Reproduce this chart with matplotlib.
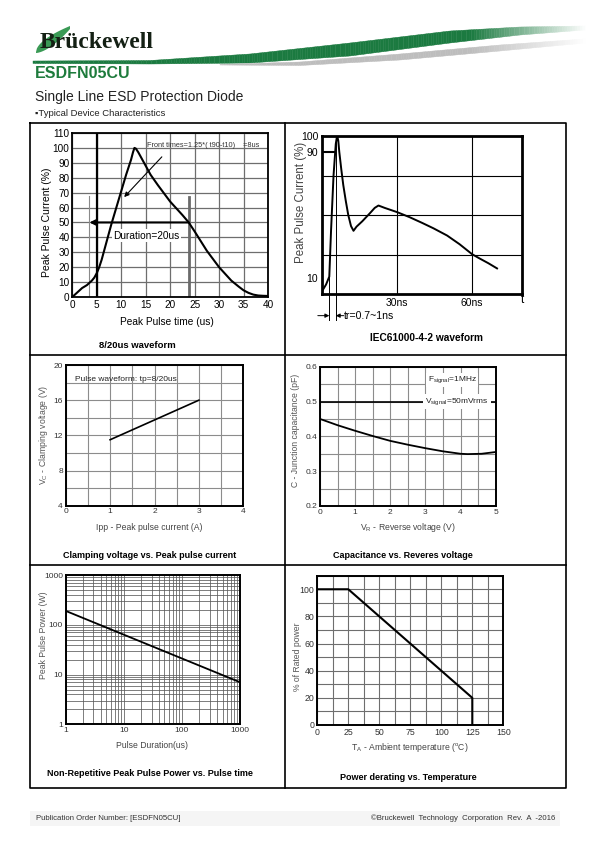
import matplotlib.pyplot as plt
import numpy as np
from matplotlib.collections import PolyCollection
from matplotlib.ticker import MultipleLocator, NullFormatter

# ---- data ----
# 8/20us waveform (time in us, current in %)
pulse_t = [0, 0.5, 1, 1.5, 2, 2.5, 3, 3.5, 4, 4.5, 5, 5.5, 6, 7, 8, 9, 10,
           11, 12, 12.4, 12.7, 13, 13.5, 14, 15, 16, 17.5, 20, 22.5, 23.8,
           25, 27.5, 30, 32.5, 34, 35, 36, 37, 38, 39, 40]
pulse_i = [0, 1.5, 3, 4.5, 6, 7, 8, 9.5, 11, 13, 16, 20, 25, 37, 49, 60, 71,
           82, 92, 97, 100, 99.5, 97, 94, 88, 82, 75, 64, 55, 50,
           44, 31, 20, 11, 7, 4.5, 2.8, 1.6, 1, 0.8, 0.7]

# IEC61000-4-2 waveform (time in ns, current in %)
esd_t = [0, 1.5, 2.8, 3.5, 4.5, 5.4, 5.8, 6, 6.4, 6.8, 7.6, 8.4, 9.4, 10.4,
         11.5, 12.5, 13.7, 16, 19, 21, 22.5, 25, 30, 35, 40, 44.5, 50, 55,
         60, 63, 66.5, 70]
esd_i = [2, 6, 11, 40, 75, 95, 99, 100, 97, 90, 79, 69, 59, 50,
         43, 40, 42.6, 46, 51, 54.5, 56, 54.5, 51.8, 48.6, 45, 41.6, 37, 31.5,
         25.2, 22.5, 19.5, 16.2]

# clamping voltage vs peak pulse current
ipp = [1, 3]
vc = [11.5, 16.0]

# junction capacitance vs reverse voltage
vr = [0, 0.5, 1, 1.5, 2, 2.5, 3, 3.5, 4, 4.2, 4.6, 5]
cj = [0.45, 0.432, 0.416, 0.401, 0.387, 0.376, 0.366, 0.357, 0.350,
      0.349, 0.350, 0.355]

# peak pulse power vs pulse duration
pulse_us = [1, 1000]
ppk = [190, 7]

# power derating
temp_c = [0, 25, 125, 125]
rated_pct = [100, 100, 20, 0]

W, H = 595, 842

plt.rcParams['font.family'] = ['Liberation Sans', 'DejaVu Sans']
plt.rcParams['mathtext.fontset'] = 'custom'
plt.rcParams['mathtext.rm'] = 'Liberation Sans'
plt.rcParams['mathtext.it'] = 'Liberation Sans:italic'
plt.rcParams['mathtext.default'] = 'regular'

fig = plt.figure(figsize=(5.95, 8.42), dpi=100)

# page layer in pixel coordinates (y down)
deco = fig.add_axes([0, 0, 1, 1])
deco.set_xlim(0, W)
deco.set_ylim(H, 0)
deco.axis('off')


def px_axes(x0, y0, x1, y1):
    return fig.add_axes([x0 / W, 1 - y1 / H, (x1 - x0) / W, (y1 - y0) / H])


def band(xs, top, bot, color, fade_from, fade_to):
    # quads along a swoosh, fading into white at the right end
    rgb = np.array(plt.matplotlib.colors.to_rgb(color))
    verts, cols = [], []
    for k in range(len(xs) - 1):
        verts.append([(xs[k], top[k]), (xs[k + 1], top[k + 1]),
                      (xs[k + 1], bot[k + 1]), (xs[k], bot[k])])
        f = np.clip((fade_to - xs[k]) / (fade_to - fade_from), 0, 1)
        cols.append(rgb * f + (1 - f))
    deco.add_collection(PolyCollection(verts, facecolors=cols,
                                       edgecolors=cols, linewidths=0.3))


# ---- header ----
xs = np.linspace(33, 585, 220)
band(xs,
     np.interp(xs, [33, 150, 250, 350, 450, 520, 585], [61, 60.5, 54, 43, 31, 27, 26]),
     np.interp(xs, [33, 150, 250, 350, 450, 520, 585], [63.5, 64, 63, 56, 43, 35, 30]),
     '#1b7a40', 470, 585)
xs2 = np.linspace(220, 585, 150)
band(xs2,
     np.interp(xs2, [220, 300, 400, 500, 585], [64.5, 62, 54, 45, 39]),
     np.interp(xs2, [220, 300, 400, 500, 585], [65, 65.5, 60, 51, 43]),
     '#bdbdbd', 470, 585)

# leaf behind the B
u = np.linspace(0, 1, 40)
leaf_x = np.concatenate([36 + 34 * u, (36 + 34 * u)[::-1]])
leaf_y = np.concatenate([52 - 26 * u ** 0.55, (53 - 24 * u ** 1.6)[::-1]])
deco.fill(leaf_x, leaf_y, color='#3a9a55', lw=0)

deco.text(40, 48, 'Brückewell', family=['Liberation Serif', 'DejaVu Serif'],
          weight='bold', fontsize=17, color='#142014', va='baseline')
deco.text(35, 74, 'ESDFN05CU', fontsize=11.5, weight='bold',
          color='#1e7b3c', va='center')
deco.text(35, 97, 'Single Line ESD Protection Diode', fontsize=10,
          color='#222222', va='center')
deco.text(35, 114, '▪Typical Device Characteristics', fontsize=6.8,
          color='#222222', va='center')

# ---- table frame ----
deco.plot([30, 566, 566, 30, 30], [123, 123, 788, 788, 123], color='black', lw=1.2)
deco.plot([285, 285], [123, 788], color='black', lw=1.2)
deco.plot([30, 566], [355, 355], color='black', lw=1.2)
deco.plot([30, 566], [565, 565], color='black', lw=1.2)


def frame(ax, lw):
    for s in ax.spines.values():
        s.set_linewidth(lw)
        s.set_color('black')
        s.set_zorder(5)
    ax.tick_params(which='both', length=0)


# ---- 8/20us waveform ----
ax1 = px_axes(72.3, 133, 268, 297)
ax1.plot(pulse_t, pulse_i, color='black', lw=1.5, zorder=4)
ax1.set_xlim(0, 40)
ax1.set_ylim(0, 110)
ax1.set_xticks(np.arange(0, 41, 5))
ax1.set_yticks(np.arange(0, 111, 10))
ax1.grid(color='#6e6e6e', lw=0.9)
ax1.set_axisbelow(True)
frame(ax1, 1.3)
ax1.tick_params(labelsize=7.2, pad=2)
ax1.axvline(5, color='black', lw=1.6, zorder=3)
ax1.plot([3.5, 3.5], [0, 68], color='#8a8a8a', lw=0.8)
ax1.plot([23.8, 23.8], [0, 67], color='#6a6a6a', lw=2)
ax1.annotate('', xy=(3.5, 50), xytext=(23.8, 50),
             arrowprops=dict(arrowstyle='-|>', color='black', lw=1.5,
                             mutation_scale=8, shrinkA=0, shrinkB=0))
ax1.text(15.2, 41, 'Duration=20us', ha='center', va='center', fontsize=7.3,
         bbox=dict(fc='white', ec='none', pad=1), zorder=6)
ax1.text(15.3, 101.5, 'Front times=1.25*( t90-t10)    =8us', fontsize=5.3,
         color='#333333', va='center')
ax1.annotate('', xy=(10.6, 67), xytext=(18.3, 94),
             arrowprops=dict(arrowstyle='-|>', color='black', lw=0.8,
                             mutation_scale=7, shrinkA=0, shrinkB=0))
deco.text(47, 222, 'Peak Pulse Current (%)', rotation=90, ha='center',
          va='center', fontsize=7.5)
deco.text(167, 322, 'Peak Pulse time (us)', ha='center', va='center',
          fontsize=7.3)
deco.text(137, 345, '8/20us waveform', ha='center', va='center',
          fontsize=6.8, weight='bold')

# ---- IEC61000-4-2 waveform ----
ax2 = px_axes(322.3, 136, 522, 294)
ax2.plot(esd_t, esd_i, color='black', lw=1.4, zorder=4)
ax2.set_xlim(0, 80)
ax2.set_ylim(0, 100)
for g in [25, 50, 75]:
    ax2.axhline(g, color='black', lw=0.8)
for g in [30, 60]:
    ax2.axvline(g, color='black', lw=0.8)
ax2.set_xticks([30, 60])
ax2.set_xticklabels(['30ns', '60ns'])
ax2.set_yticks([10, 90, 100])
frame(ax2, 2)
ax2.tick_params(labelsize=7.5, pad=3)
ax2.plot([0, 5.2], [90, 90], color='black', lw=1.5)
ax2.plot([5.4, 5.4], [100, -16.5], color='black', lw=0.7, clip_on=False)
ax2.plot([2.8, 2.8], [11, -16.5], color='black', lw=0.7, clip_on=False)
ax2.annotate('', xy=(2.8, -13.7), xytext=(-1.8, -13.7), annotation_clip=False,
             arrowprops=dict(arrowstyle='-|>', color='black', lw=0.7,
                             mutation_scale=6, shrinkA=0, shrinkB=0))
ax2.annotate('', xy=(5.4, -13.7), xytext=(8.6, -13.7), annotation_clip=False,
             arrowprops=dict(arrowstyle='-|>', color='black', lw=0.7,
                             mutation_scale=6, shrinkA=0, shrinkB=0))
ax2.text(8.7, -13.7, 'tr=0.7~1ns', va='center', fontsize=7.6, clip_on=False)
ax2.text(80, -4, 't', ha='center', va='center', fontsize=8.5, clip_on=False)
deco.text(301, 202, 'Peak Pulse Current (%)', rotation=90, ha='center',
          va='center', fontsize=8.3, color='#444444')
deco.text(427, 338, 'IEC61000-4-2 waveform', ha='center', va='center',
          fontsize=7.3, weight='bold')


def small_grid(ax, color):
    ax.grid(which='both', color=color, lw=0.8)
    ax.set_axisbelow(True)
    frame(ax, 1.4)
    ax.tick_params(labelsize=6, pad=2, labelcolor='#333333')


# ---- clamping voltage ----
ax3 = px_axes(65.7, 365, 243.3, 505.7)
ax3.plot(ipp, vc, color='black', lw=1.2, zorder=4)
ax3.set_xlim(0, 4)
ax3.set_ylim(4, 20)
ax3.set_xticks(np.arange(0, 5, 1))
ax3.set_yticks(np.arange(4, 21, 4))
ax3.xaxis.set_minor_locator(MultipleLocator(0.5))
ax3.yaxis.set_minor_locator(MultipleLocator(2))
small_grid(ax3, '#8c8c8c')
ax3.text(0.22, 18.4, 'Pulse waveform: tp=8/20us', fontsize=6, va='center',
         color='#222222')
deco.text(43, 435, 'V$_C$ - Clamping voltage (V)', rotation=90, ha='center',
          va='center', fontsize=6.2, color='#555555')
deco.text(149, 527, 'Ipp - Peak pulse current (A)', ha='center', va='center',
          fontsize=6.2, color='#444444')
deco.text(150, 555, 'Clamping voltage vs. Peak pulse current', ha='center',
          va='center', fontsize=6.5, weight='bold')

# ---- capacitance ----
ax4 = px_axes(320, 366.7, 495.7, 506)
ax4.plot(vr, cj, color='black', lw=1.3, zorder=4)
ax4.set_xlim(0, 5)
ax4.set_ylim(0.2, 0.6)
ax4.set_xticks(np.arange(0, 6, 1))
ax4.set_yticks([0.2, 0.3, 0.4, 0.5, 0.6])
ax4.set_yticklabels(['0.2', '0.3', '0.4', '0.5', '0.6'])
ax4.xaxis.set_minor_locator(MultipleLocator(0.5))
ax4.yaxis.set_minor_locator(MultipleLocator(0.05))
small_grid(ax4, '#8c8c8c')
ax4.axhline(0.5, color='black', lw=1.2, zorder=3)
ax4.text(3.07, 0.562, 'F$_{signal}$=1MHz', fontsize=6, va='center',
         color='#222222', bbox=dict(fc='white', ec='none', pad=1))
ax4.text(3.0, 0.5, 'V$_{signal}$=50mVrms', fontsize=6, va='center',
         color='#222222', zorder=6, bbox=dict(fc='white', ec='none', pad=1.5))
deco.text(296, 430, 'C - Junction capacitance (pF)', rotation=90, ha='center',
          va='center', fontsize=6.2, color='#555555')
deco.text(408, 528, 'V$_R$ - Reverse voltage (V)', ha='center', va='center',
          fontsize=6.2, color='#444444')
deco.text(403, 556, 'Capacitance vs. Reveres voltage', ha='center',
          va='center', fontsize=6.5, weight='bold')

# ---- peak pulse power ----
ax5 = px_axes(65.7, 575, 240, 724.3)
ax5.loglog(pulse_us, ppk, color='black', lw=1.3, zorder=4)
ax5.set_xlim(1, 1000)
ax5.set_ylim(1, 1000)
ax5.set_xticks([1, 10, 100, 1000])
ax5.set_xticklabels(['1', '10', '100', '1000'])
ax5.set_yticks([1, 10, 100, 1000])
ax5.set_yticklabels(['1', '10', '100', '1000'])
ax5.xaxis.set_minor_formatter(NullFormatter())
ax5.yaxis.set_minor_formatter(NullFormatter())
ax5.grid(which='both', color='#5a5a5a', lw=0.55)
ax5.set_axisbelow(True)
frame(ax5, 1.4)
ax5.tick_params(labelsize=6, pad=2, labelcolor='#333333')
deco.text(43, 635, 'Peak Pulse Power (W)', rotation=90, ha='center',
          va='center', fontsize=6.2, color='#555555')
deco.text(152, 745, 'Pulse Duration(us)', ha='center', va='center',
          fontsize=6.2, color='#444444')
deco.text(150, 774, 'Non-Repetitive Peak Pulse Power vs. Pulse time',
          ha='center', va='center', fontsize=6.5, weight='bold')

# ---- power derating ----
ax6 = px_axes(317.3, 575.7, 503.3, 725)
ax6.plot(temp_c, rated_pct, color='black', lw=1.5, zorder=4)
ax6.set_xlim(0, 150)
ax6.set_ylim(0, 110)
ax6.set_xticks(np.arange(0, 151, 25))
ax6.set_yticks(np.arange(0, 101, 20))
ax6.xaxis.set_minor_locator(MultipleLocator(12.5))
ax6.yaxis.set_minor_locator(MultipleLocator(10))
small_grid(ax6, '#6e6e6e')
ax6.tick_params(labelsize=6.3)
deco.text(297, 657, '% of Rated power', rotation=90, ha='center',
          va='center', fontsize=6.2, color='#555555')
deco.text(410, 748, 'T$_A$ - Ambient temperature ($^o$C)', ha='center',
          va='center', fontsize=6.2, color='#444444')
deco.text(408, 778, 'Power derating vs. Temperature', ha='center',
          va='center', fontsize=6.5, weight='bold')

# ---- footer ----
deco.add_patch(plt.Rectangle((30, 811), 530, 15, color='#f5f5f5', lw=0))
deco.text(36, 818, 'Publication Order Number: [ESDFN05CU]', fontsize=5.6,
          va='center', color='#333333')
deco.text(555, 818, '©Bruckewell  Technology  Corporation  Rev.  A  -2016',
          fontsize=5.6, va='center', ha='right', color='#333333')

fig.savefig('out.png', dpi=100)
